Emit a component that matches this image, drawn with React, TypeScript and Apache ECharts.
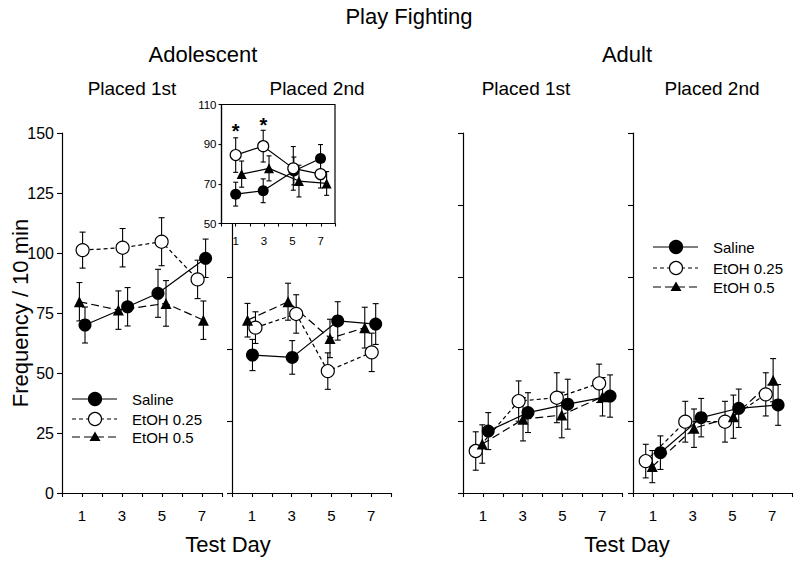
import React, { useEffect, useRef } from 'react';
import * as echarts from 'echarts';

// ---------- data (x = test day as plotted, with the figure's small horizontal offsets) ----------
const xLabelDays = [1, 3, 5, 7];
const groupNames = ['Saline', 'EtOH 0.25', 'EtOH 0.5'];

// Adolescent, placed 1st
const adol1SalineX = [1.15, 3.28, 4.8, 7.18];
const adol1SalineY = [70, 77.6, 83.2, 97.8];
const adol1SalineE = [7.5, 8, 10, 8];
const adol1Etoh25X = [1.03, 3.03, 4.98, 6.78];
const adol1Etoh25Y = [101.2, 102.2, 104.7, 89];
const adol1Etoh25E = [7.5, 8, 10, 8];
const adol1Etoh5X = [0.87, 2.82, 5.2, 7.07];
const adol1Etoh5Y = [79.7, 76.2, 79, 72];
const adol1Etoh5E = [8, 8, 9.5, 8];

// Adolescent, placed 2nd
const adol2SalineX = [1.03, 3.03, 5.32, 7.23];
const adol2SalineY = [57.5, 56.5, 71.7, 70.4];
const adol2SalineE = [6.5, 7, 8, 8.5];
const adol2Etoh25X = [1.18, 3.23, 4.82, 7.03];
const adol2Etoh25Y = [68.9, 74.6, 50.8, 58.6];
const adol2Etoh25E = [6.6, 8, 7.6, 8];
const adol2Etoh5X = [0.78, 2.82, 4.93, 6.68];
const adol2Etoh5Y = [72, 79.7, 64.4, 68.9];
const adol2Etoh5E = [7, 7.7, 8, 8.5];

// Inset (adolescent placed 2nd, zoomed)
const insetSalineX = [1.0, 2.94, 5.1, 6.98];
const insetSalineY = [64.8, 66.5, 76.5, 82.8];
const insetSalineE = [6, 6, 7, 7];
const insetEtoh25X = [1.0, 2.94, 5.06, 6.98];
const insetEtoh25Y = [84.5, 89, 77.8, 74.9];
const insetEtoh25E = [8.7, 8, 11, 7];
const insetEtoh5X = [1.42, 3.35, 5.46, 7.41];
const insetEtoh5Y = [74.9, 77.8, 71.4, 70.2];
const insetEtoh5E = [6.6, 6.3, 8, 6];
const insetStarX = [1.0, 2.95];
const insetStarY = [96.5, 99.5];

// Adult, placed 1st
const adult1SalineX = [1.27, 3.27, 5.27, 7.4];
const adult1SalineY = [25.8, 33.5, 37, 40.4];
const adult1SalineE = [7.7, 8.3, 10.4, 8.8];
const adult1Etoh25X = [0.64, 2.8, 4.72, 6.85];
const adult1Etoh25Y = [17.5, 38.3, 39.7, 45.7];
const adult1Etoh25E = [8, 8.4, 10.4, 8];
const adult1Etoh5X = [0.97, 3.02, 4.97, 7.02];
const adult1Etoh5Y = [20.4, 30.7, 32.5, 40.1];
const adult1Etoh5E = [8, 9, 9.5, 8];

// Adult, placed 2nd
const adult2SalineX = [1.38, 3.43, 5.32, 7.3];
const adult2SalineY = [16.8, 31.4, 35.3, 36.7];
const adult2SalineE = [7, 8, 8, 8.5];
const adult2Etoh25X = [0.64, 2.63, 4.63, 6.68];
const adult2Etoh25Y = [13.3, 29.7, 29.7, 41.1];
const adult2Etoh25E = [7, 8.5, 8.5, 9];
const adult2Etoh5X = [0.97, 3.07, 5.05, 7.05];
const adult2Etoh5Y = [11, 27, 31.8, 47];
const adult2Etoh5E = [6.7, 8, 9, 9];

// ---------- styling ----------
const FONT = '"Liberation Sans", Arial, Helvetica, sans-serif';
const DASHES: any[] = ['solid', [4, 3], [8, 4]];

type Panel = {
  grid: number;
  groups: { x: number[]; y: number[]; e: number[] }[];
  inset?: boolean;
};

const panels: Panel[] = [
  { grid: 0, groups: [
    { x: adol1SalineX, y: adol1SalineY, e: adol1SalineE },
    { x: adol1Etoh25X, y: adol1Etoh25Y, e: adol1Etoh25E },
    { x: adol1Etoh5X, y: adol1Etoh5Y, e: adol1Etoh5E },
  ] },
  { grid: 1, groups: [
    { x: adol2SalineX, y: adol2SalineY, e: adol2SalineE },
    { x: adol2Etoh25X, y: adol2Etoh25Y, e: adol2Etoh25E },
    { x: adol2Etoh5X, y: adol2Etoh5Y, e: adol2Etoh5E },
  ] },
  { grid: 2, groups: [
    { x: adult1SalineX, y: adult1SalineY, e: adult1SalineE },
    { x: adult1Etoh25X, y: adult1Etoh25Y, e: adult1Etoh25E },
    { x: adult1Etoh5X, y: adult1Etoh5Y, e: adult1Etoh5E },
  ] },
  { grid: 3, groups: [
    { x: adult2SalineX, y: adult2SalineY, e: adult2SalineE },
    { x: adult2Etoh25X, y: adult2Etoh25Y, e: adult2Etoh25E },
    { x: adult2Etoh5X, y: adult2Etoh5Y, e: adult2Etoh5E },
  ] },
  { grid: 4, inset: true, groups: [
    { x: insetSalineX, y: insetSalineY, e: insetSalineE },
    { x: insetEtoh25X, y: insetEtoh25Y, e: insetEtoh25E },
    { x: insetEtoh5X, y: insetEtoh5Y, e: insetEtoh5E },
  ] },
];

function errRender(cap: number) {
  return (_params: any, api: any) => {
    const x = api.value(0), y = api.value(1), e = api.value(2);
    const t = api.coord([x, y + e]);
    const b = api.coord([x, y - e]);
    const style = { stroke: '#000', lineWidth: 1.1 };
    return {
      type: 'group',
      children: [
        { type: 'line', shape: { x1: t[0], y1: t[1], x2: b[0], y2: b[1] }, style },
        { type: 'line', shape: { x1: t[0] - cap, y1: t[1], x2: t[0] + cap, y2: t[1] }, style },
        { type: 'line', shape: { x1: b[0] - cap, y1: b[1], x2: b[0] + cap, y2: b[1] }, style },
      ],
    };
  };
}

function starRender(_params: any, api: any) {
  const p = api.coord([api.value(0), api.value(1)]);
  return {
    type: 'text',
    x: p[0],
    y: p[1],
    style: { text: '*', fontSize: 20, fontWeight: 'bold', fontFamily: FONT, fill: '#000', align: 'center', verticalAlign: 'middle' },
  };
}

function buildSeries() {
  const series: any[] = [];
  panels.forEach((p) => {
    const inset = !!p.inset;
    p.groups.forEach((g, gi) => {
      const isOpen = gi === 1;
      const isTri = gi === 2;
      const baseZ = inset ? 22 : 1;
      series.push({
        type: 'custom',
        name: groupNames[gi] + ' SEM',
        xAxisIndex: p.grid,
        yAxisIndex: p.grid,
        z: baseZ,
        silent: true,
        renderItem: errRender(inset ? 2.5 : 3),
        encode: { x: 0, y: 1 },
        data: g.x.map((xv, i) => [xv, g.y[i], g.e[i]]),
      });
      series.push({
        type: 'line',
        name: groupNames[gi],
        xAxisIndex: p.grid,
        yAxisIndex: p.grid,
        z: baseZ + 1,
        symbol: isTri ? 'triangle' : 'circle',
        symbolSize: inset ? (isTri ? 10 : 11) : (isTri ? 11 : 13),
        showAllSymbol: true,
        lineStyle: { color: '#000', width: 1.2, type: inset ? 'solid' : DASHES[gi] },
        itemStyle: isOpen
          ? { color: '#fff', borderColor: '#000', borderWidth: 1.2 }
          : { color: '#000', borderColor: '#000', borderWidth: 0 },
        emphasis: { disabled: true },
        data: g.x.map((xv, i) => [xv, g.y[i]]),
      });
    });
  });
  series.push({
    type: 'custom',
    name: 'significance',
    xAxisIndex: 4,
    yAxisIndex: 4,
    z: 25,
    silent: true,
    renderItem: starRender,
    encode: { x: 0, y: 1 },
    data: insetStarX.map((xv, i) => [xv, insetStarY[i]]),
  });
  return series;
}

function xAxisFor(grid: number, inset = false) {
  return {
    type: 'value',
    gridIndex: grid,
    min: 0,
    max: 8,
    interval: 1,
    z: inset ? 21 : 0,
    axisLine: { show: true, onZero: false, lineStyle: { color: '#000', width: 1.2 } },
    axisTick: { show: true, inside: false, length: inset ? 3 : 4, lineStyle: { color: '#000', width: 1.1 } },
    axisLabel: {
      show: true,
      fontSize: inset ? 11.5 : 15,
      color: '#000',
      fontFamily: FONT,
      margin: inset ? 11 : 15,
      showMinLabel: true,
      showMaxLabel: true,
      formatter: (v: number) => (xLabelDays.indexOf(v) >= 0 ? String(v) : ''),
    },
    splitLine: { show: false },
  };
}

function yAxisFor(grid: number, kind: 'main' | 'plain' | 'inset') {
  const inset = kind === 'inset';
  return {
    type: 'value',
    gridIndex: grid,
    min: inset ? 50 : 0,
    max: inset ? 110 : 150,
    interval: kind === 'main' ? 25 : kind === 'plain' ? 30 : 20,
    z: inset ? 21 : 0,
    axisLine: { show: true, onZero: false, lineStyle: { color: '#000', width: 1.2 } },
    axisTick: { show: true, inside: false, length: inset ? 3 : 5, lineStyle: { color: '#000', width: 1.1 } },
    axisLabel: {
      show: kind !== 'plain',
      fontSize: inset ? 11.5 : 16,
      color: '#000',
      fontFamily: FONT,
      margin: inset ? 5 : 8,
    },
    splitLine: { show: false },
  };
}

function legendRows(x0: number, ys: number[]) {
  const els: any[] = [];
  ys.forEach((y, gi) => {
    els.push({
      type: 'line',
      z: 30,
      shape: { x1: x0, y1: y, x2: x0 + 45, y2: y },
      style: { stroke: '#000', lineWidth: 1.2, lineDash: gi === 0 ? null : DASHES[gi] },
    });
    const cx = x0 + 23;
    if (gi === 2) {
      els.push({
        type: 'polygon',
        z: 31,
        shape: { points: [[cx, y - 5.5], [cx + 5.5, y + 4], [cx - 5.5, y + 4]] },
        style: { fill: '#000' },
      });
    } else {
      els.push({
        type: 'circle',
        z: 31,
        shape: { cx, cy: y, r: 6.5 },
        style: { fill: gi === 0 ? '#000' : '#fff', stroke: '#000', lineWidth: 1.2 },
      });
    }
    els.push({
      type: 'text',
      z: 31,
      x: x0 + 60,
      y,
      style: { text: groupNames[gi], fontSize: 15, fontFamily: FONT, fill: '#000', verticalAlign: 'middle', align: 'left' },
    });
  });
  return els;
}

function label(text: string, x: number, y: number, size: number, rotation = 0) {
  return {
    type: 'text',
    x,
    y,
    rotation,
    z: 30,
    style: { text, fontSize: size, fontFamily: FONT, fill: '#000', align: 'center', verticalAlign: 'middle' },
  };
}

export default function App() {
  const ref = useRef<HTMLDivElement>(null);
  useEffect(() => {
    document.body.style.margin = '0';
    if (!ref.current) return;
    const chart = echarts.init(ref.current, undefined, { renderer: 'svg' });
    const option: any = {
      animation: false,
      backgroundColor: '#fff',
      textStyle: { fontFamily: FONT, color: '#000' },
      grid: [
        { left: 62, top: 133, width: 160, height: 360 },
        { left: 232, top: 133, width: 159, height: 360 },
        { left: 463, top: 133, width: 159, height: 360 },
        { left: 633, top: 133, width: 159, height: 360 },
        {
          left: 221.5, top: 104.5, width: 113.5, height: 119, show: true, z: 20,
          backgroundColor: '#fff', borderColor: '#000', borderWidth: 1.2,
        },
      ],
      xAxis: [xAxisFor(0), xAxisFor(1), xAxisFor(2), xAxisFor(3), xAxisFor(4, true)],
      yAxis: [
        yAxisFor(0, 'main'),
        yAxisFor(1, 'plain'),
        yAxisFor(2, 'plain'),
        yAxisFor(3, 'plain'),
        yAxisFor(4, 'inset'),
      ],
      series: buildSeries(),
      graphic: [
        label('Play Fighting', 409, 16, 22),
        label('Adolescent', 203, 54, 22),
        label('Adult', 627, 54, 22),
        label('Placed 1st', 132, 88, 19),
        label('Placed 2nd', 317, 88, 19),
        label('Placed 1st', 526, 88, 19),
        label('Placed 2nd', 712, 88, 19),
        label('Test Day', 228, 544, 22),
        label('Test Day', 627, 544, 22),
        label('Frequency / 10 min', 20, 313, 22, Math.PI / 2),
        ...legendRows(72, [399, 419, 437]),
        ...legendRows(653, [247, 268, 287]),
      ],
    };
    chart.setOption(option);
    return () => chart.dispose();
  }, []);
  return <div ref={ref} style={{ width: 800, height: 566 }} />;
}
